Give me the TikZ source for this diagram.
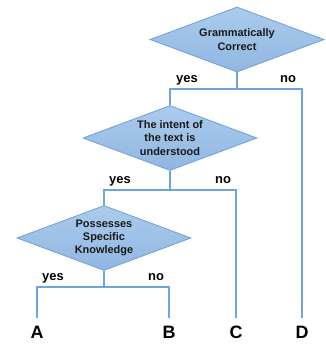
\documentclass[tikz,border=0pt]{standalone}
\usepackage{fontspec}
\setmainfont{Liberation Sans}
\usetikzlibrary{shapes.geometric}
\definecolor{lineblue}{HTML}{72A4DC}
\definecolor{filltop}{HTML}{ABCBEC}
\definecolor{fillbot}{HTML}{90B6E1}
\begin{document}
\begin{tikzpicture}[x=1bp,y=-1bp,
  dia/.style={diamond, draw=lineblue, line width=0.9bp, top color=filltop,
    bottom color=fillbot, minimum width=174bp, minimum height=65bp, inner sep=0pt},
  diatext/.style={font=\bfseries\fontsize{11}{13.3}\selectfont, align=center, text=black!90},
  conn/.style={draw=lineblue, line width=1.1bp},
  branch/.style={font=\bfseries\fontsize{13}{15}\selectfont, anchor=base, inner sep=0pt},
  leaf/.style={font=\bfseries\fontsize{18}{21}\selectfont, anchor=base, inner sep=0pt}]
\useasboundingbox (0,0) rectangle (326,345);
% decisions
\node[dia] (q1) at (237,39.5) {};
\node[diatext] (t1) at (q1) {Grammatically\\Correct};
\node[dia] (q2) at (170,138) {};
\node[diatext] (t2) at (q2) {The intent of\\the text is\\understood};
\node[dia] (q3) at (104,238) {};
\node[diatext] (t3) at (q3) {Possesses\\Specific\\Knowledge};
% junctions and ends
\coordinate (j1) at (237,89);
\coordinate (j2) at (170,190);
\coordinate (j3) at (104,287);
\coordinate (eA) at (37,318);
\coordinate (eB) at (169,318);
\coordinate (eC) at (236,318);
\coordinate (eD) at (302,318);
% connectors
\draw[conn] (q1.south) -- (j1);
\draw[conn] (j1) -| (q2.north);
\draw[conn] (j1) -| (eD);
\draw[conn] (q2.south) -- (j2);
\draw[conn] (j2) -| (q3.north);
\draw[conn] (j2) -| (eC);
\draw[conn] (q3.south) -- (j3);
\draw[conn] (j3) -| (eA);
\draw[conn] (j3) -| (eB);
% branch labels
\node[branch] (y1) at (187,82) {yes};
\node[branch] (n1) at (288,82) {no};
\node[branch] (y2) at (120,183) {yes};
\node[branch] (n2) at (223,183) {no};
\node[branch] (y3) at (53,280) {yes};
\node[branch] (n3) at (156,280) {no};
% outcomes
\node[leaf] (A) at (37,338) {A};
\node[leaf] (B) at (169,338) {B};
\node[leaf] (C) at (236,338) {C};
\node[leaf] (D) at (302,338) {D};
\end{tikzpicture}
\end{document}
